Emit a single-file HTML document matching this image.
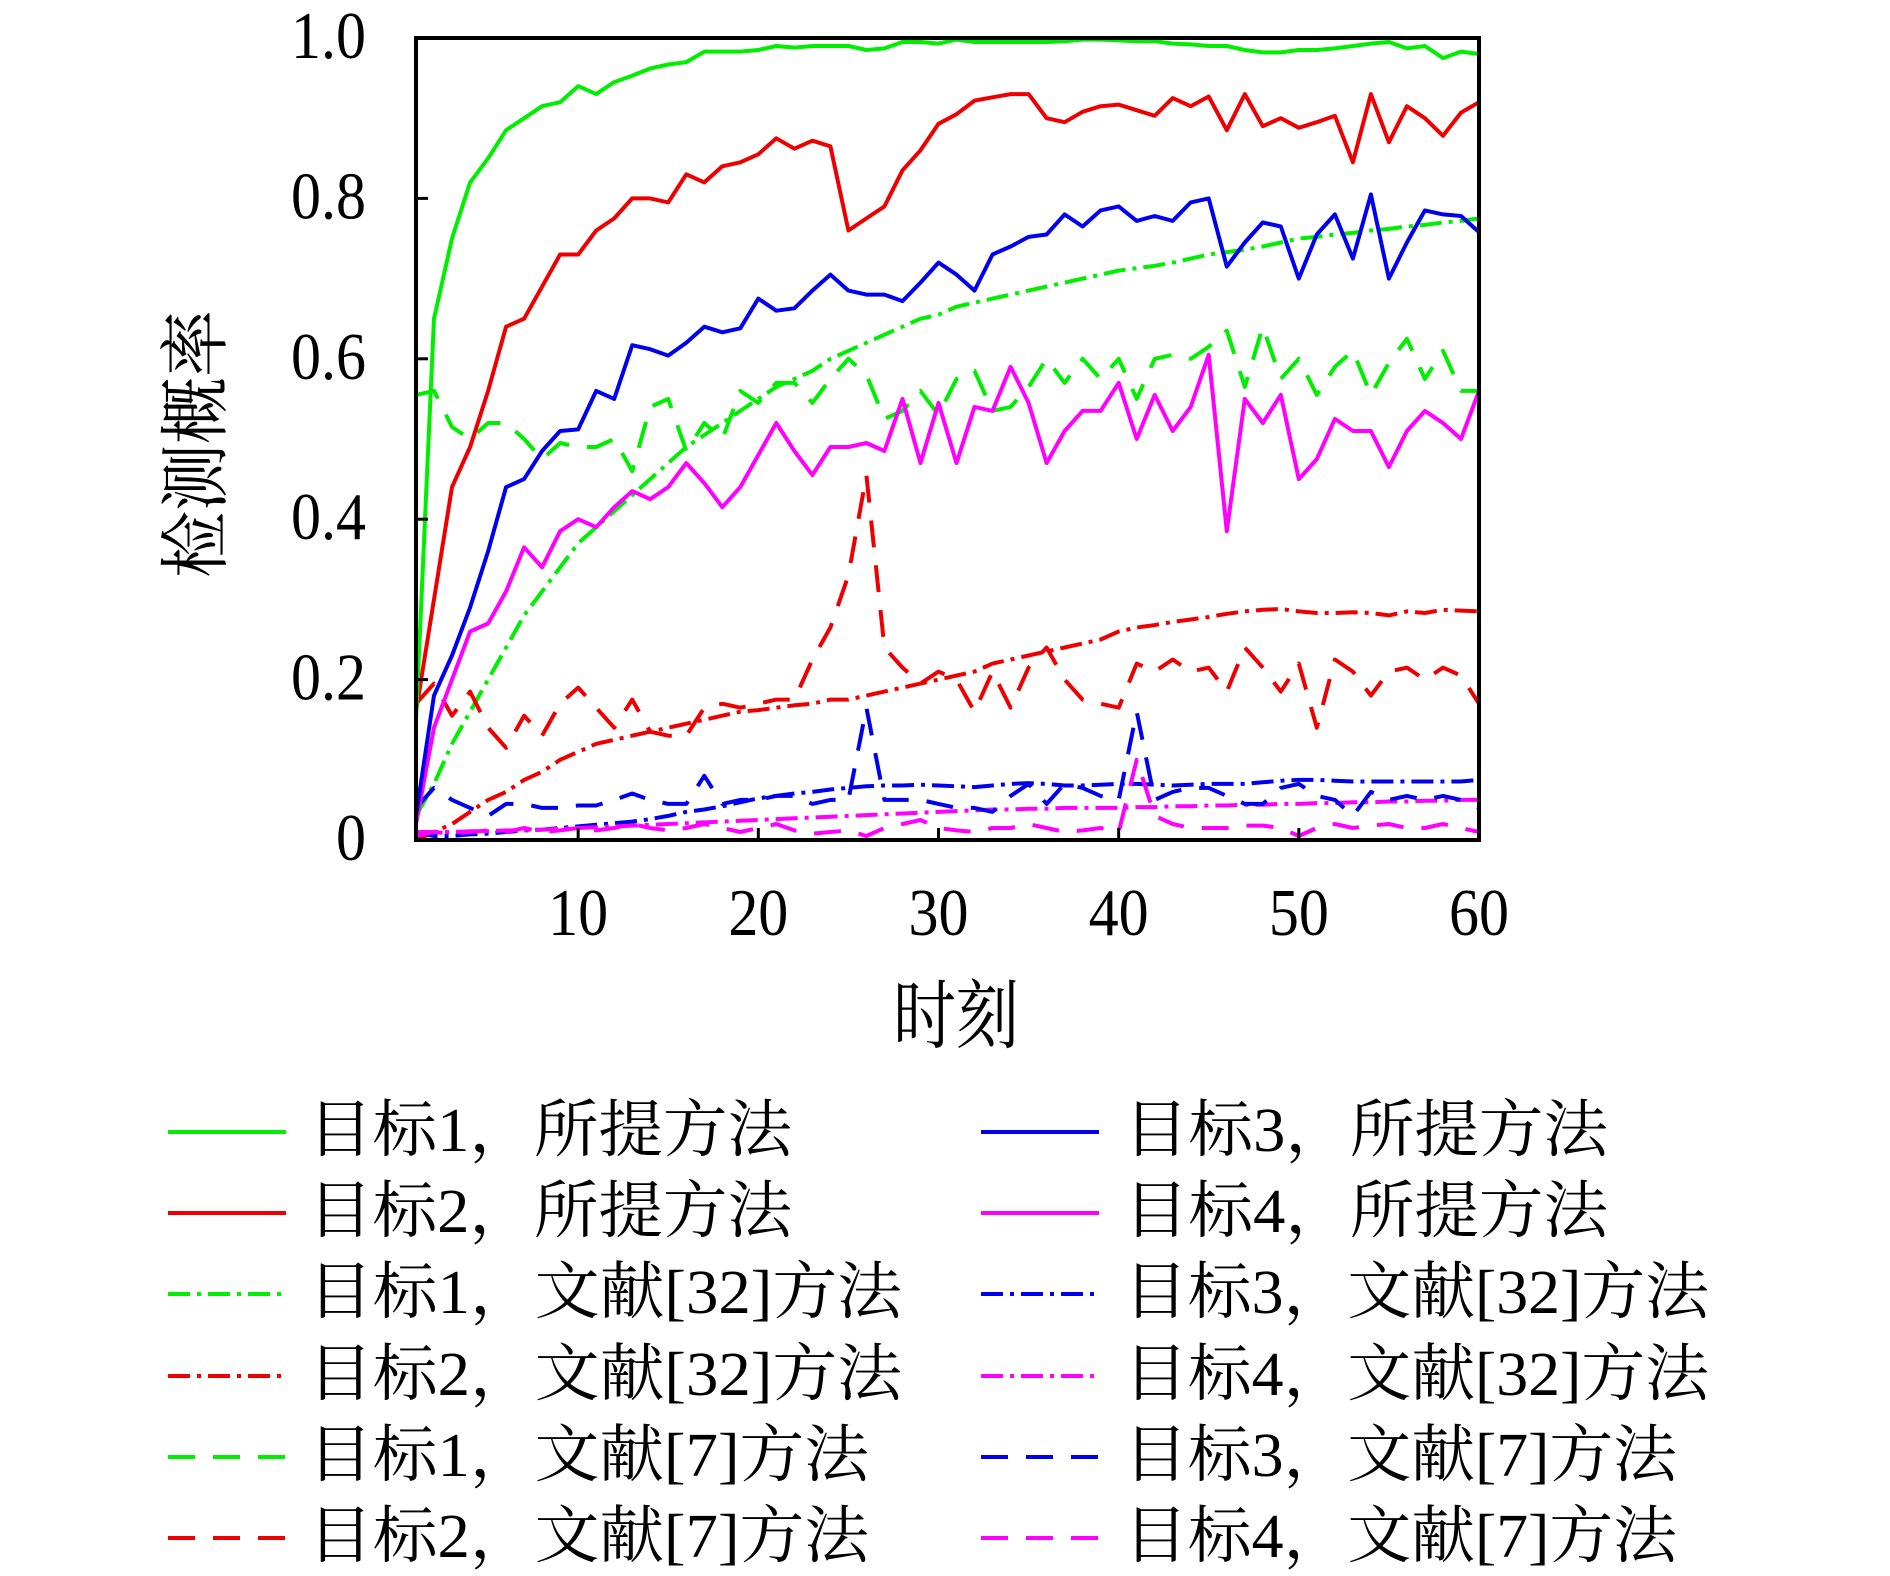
<!DOCTYPE html>
<html><head><meta charset="utf-8"><style>
html,body{margin:0;padding:0;background:#fff;}
svg{display:block;}
text{font-family:"Liberation Serif","Noto Serif CJK SC",serif;fill:#000;}
</style></head><body>
<svg id="chart" width="1890" height="1576" viewBox="0 0 1890 1576" xmlns="http://www.w3.org/2000/svg">
<g id="plot"></g>
<g id="axes"></g>
<g id="legend"></g>
</svg>
<script>
const xTicks = [10,20,30,40,50,60];
const yTicks = [0,0.2,0.4,0.6,0.8,1.0];
const yTickLabels = ["0","0.2","0.4","0.6","0.8","1.0"];
const g1Proposed = [0.15,0.65,0.75,0.82,0.85,0.885,0.9,0.915,0.92,0.94,0.93,0.945,0.953,0.962,0.967,0.97,0.983,0.983,0.983,0.985,0.99,0.988,0.99,0.99,0.99,0.985,0.987,0.995,0.995,0.993,0.998,0.995,0.995,0.995,0.995,0.995,0.996,0.998,0.998,0.997,0.996,0.996,0.993,0.992,0.99,0.99,0.985,0.982,0.982,0.985,0.985,0.987,0.99,0.993,0.995,0.987,0.99,0.975,0.983,0.98];
const g2Proposed = [0.16,0.3,0.44,0.49,0.56,0.64,0.65,0.69,0.73,0.73,0.76,0.775,0.8,0.8,0.795,0.83,0.82,0.84,0.845,0.855,0.875,0.862,0.872,0.865,0.76,0.775,0.79,0.835,0.86,0.893,0.905,0.922,0.926,0.93,0.93,0.9,0.895,0.908,0.915,0.917,0.91,0.903,0.925,0.915,0.927,0.885,0.93,0.89,0.9,0.888,0.895,0.903,0.845,0.93,0.87,0.915,0.9,0.878,0.907,0.92];
const g3Proposed = [0.03,0.18,0.23,0.29,0.36,0.44,0.45,0.485,0.51,0.512,0.56,0.55,0.617,0.612,0.604,0.62,0.64,0.633,0.638,0.675,0.66,0.663,0.685,0.705,0.685,0.68,0.68,0.672,0.695,0.72,0.705,0.685,0.73,0.74,0.752,0.755,0.78,0.765,0.785,0.79,0.772,0.778,0.772,0.795,0.8,0.715,0.745,0.77,0.765,0.7,0.755,0.78,0.725,0.805,0.7,0.745,0.785,0.78,0.778,0.758];
const g4Proposed = [0.02,0.14,0.2,0.26,0.27,0.31,0.365,0.34,0.385,0.4,0.39,0.415,0.435,0.425,0.44,0.47,0.445,0.415,0.44,0.48,0.52,0.485,0.455,0.49,0.49,0.495,0.485,0.55,0.47,0.545,0.47,0.54,0.535,0.59,0.545,0.47,0.51,0.535,0.535,0.57,0.5,0.555,0.51,0.54,0.605,0.385,0.55,0.52,0.555,0.45,0.475,0.525,0.51,0.51,0.465,0.51,0.535,0.52,0.5,0.56];
const g1Ref32 = [0.03,0.07,0.12,0.16,0.2,0.24,0.28,0.31,0.34,0.37,0.39,0.41,0.43,0.45,0.47,0.49,0.505,0.52,0.535,0.55,0.565,0.575,0.585,0.6,0.61,0.62,0.63,0.64,0.65,0.655,0.665,0.67,0.675,0.68,0.685,0.69,0.695,0.7,0.705,0.71,0.713,0.716,0.72,0.725,0.73,0.733,0.736,0.74,0.745,0.75,0.752,0.755,0.757,0.76,0.762,0.765,0.767,0.77,0.772,0.775];
const g2Ref32 = [0.0,0.01,0.02,0.035,0.05,0.06,0.075,0.085,0.1,0.11,0.12,0.125,0.13,0.135,0.14,0.145,0.15,0.155,0.16,0.162,0.165,0.168,0.17,0.175,0.175,0.18,0.185,0.19,0.195,0.2,0.205,0.21,0.22,0.225,0.23,0.235,0.24,0.245,0.25,0.26,0.265,0.268,0.272,0.275,0.278,0.282,0.285,0.287,0.288,0.285,0.283,0.283,0.284,0.283,0.28,0.285,0.283,0.287,0.286,0.285];
const g3Ref32 = [0.01,0.005,0.005,0.007,0.008,0.01,0.012,0.013,0.015,0.017,0.019,0.021,0.023,0.026,0.03,0.035,0.038,0.042,0.047,0.052,0.055,0.058,0.06,0.063,0.065,0.067,0.068,0.068,0.069,0.068,0.067,0.066,0.068,0.07,0.071,0.07,0.068,0.068,0.069,0.07,0.07,0.069,0.068,0.069,0.07,0.07,0.07,0.072,0.074,0.075,0.075,0.074,0.073,0.073,0.073,0.073,0.073,0.073,0.073,0.075];
const g4Ref32 = [0.01,0.01,0.01,0.011,0.011,0.012,0.012,0.013,0.014,0.015,0.016,0.017,0.018,0.019,0.02,0.021,0.022,0.023,0.024,0.025,0.026,0.027,0.028,0.029,0.03,0.031,0.032,0.033,0.034,0.035,0.036,0.037,0.038,0.038,0.039,0.039,0.04,0.04,0.04,0.04,0.041,0.041,0.042,0.042,0.043,0.043,0.044,0.044,0.045,0.045,0.046,0.046,0.047,0.047,0.048,0.048,0.049,0.049,0.05,0.05];
const g1Ref7 = [0.555,0.56,0.515,0.5,0.52,0.52,0.5,0.475,0.495,0.49,0.49,0.5,0.46,0.54,0.55,0.485,0.52,0.5,0.56,0.545,0.57,0.57,0.545,0.575,0.6,0.58,0.525,0.535,0.56,0.53,0.575,0.585,0.535,0.54,0.565,0.6,0.57,0.6,0.575,0.6,0.55,0.6,0.605,0.6,0.615,0.635,0.565,0.64,0.575,0.6,0.555,0.59,0.61,0.555,0.595,0.625,0.575,0.61,0.56,0.56];
const g2Ref7 = [0.17,0.195,0.155,0.185,0.14,0.115,0.155,0.13,0.17,0.19,0.165,0.14,0.175,0.135,0.13,0.13,0.165,0.17,0.165,0.17,0.175,0.175,0.225,0.265,0.33,0.455,0.24,0.215,0.195,0.21,0.2,0.16,0.21,0.165,0.215,0.24,0.2,0.175,0.17,0.165,0.22,0.21,0.225,0.21,0.215,0.185,0.24,0.215,0.185,0.22,0.14,0.225,0.21,0.18,0.21,0.215,0.2,0.215,0.205,0.17];
const g3Ref7 = [0.04,0.065,0.05,0.04,0.03,0.045,0.045,0.04,0.04,0.043,0.043,0.05,0.058,0.05,0.045,0.045,0.08,0.045,0.05,0.05,0.055,0.055,0.045,0.05,0.05,0.165,0.05,0.05,0.05,0.045,0.04,0.04,0.035,0.055,0.07,0.045,0.07,0.065,0.055,0.05,0.16,0.05,0.06,0.065,0.065,0.055,0.045,0.045,0.065,0.07,0.055,0.05,0.03,0.06,0.05,0.055,0.05,0.055,0.05,0.04];
const g4Ref7 = [0.005,0.01,0.008,0.01,0.012,0.01,0.015,0.01,0.012,0.015,0.012,0.015,0.02,0.015,0.012,0.015,0.02,0.015,0.01,0.015,0.02,0.012,0.008,0.01,0.012,0.005,0.015,0.02,0.025,0.015,0.012,0.01,0.015,0.015,0.02,0.015,0.01,0.012,0.015,0.01,0.1,0.03,0.02,0.015,0.015,0.015,0.018,0.018,0.015,0.005,0.015,0.02,0.015,0.018,0.02,0.015,0.015,0.02,0.015,0.01];

const NS = "http://www.w3.org/2000/svg";
const L = 416, R = 1479, T = 38, B = 840;
function xs(t){ return L + (t-1)*(R-L)/59; }
function ys(v){ return B - v*(B-T); }
function mk(tag, attrs, parent){ const e=document.createElementNS(NS,tag); for(const k in attrs) e.setAttribute(k,attrs[k]); parent.appendChild(e); return e; }

const GREEN="#00ee00", RED="#ee0000", BLUE="#0000ee", MAG="#ff00ff";
const SOLID="", DASHDOT="22 7 4 7", DASH="27 18";
const series = [
  {d:g1Ref32,c:GREEN,s:DASHDOT,n:"series-target1-ref32"},
  {d:g2Ref32,c:RED,s:DASHDOT,n:"series-target2-ref32"},
  {d:g3Ref32,c:BLUE,s:DASHDOT,n:"series-target3-ref32"},
  {d:g4Ref32,c:MAG,s:DASHDOT,n:"series-target4-ref32"},
  {d:g1Ref7,c:GREEN,s:DASH,n:"series-target1-ref7"},
  {d:g2Ref7,c:RED,s:DASH,n:"series-target2-ref7"},
  {d:g3Ref7,c:BLUE,s:DASH,n:"series-target3-ref7"},
  {d:g4Ref7,c:MAG,s:DASH,n:"series-target4-ref7"},
  {d:g4Proposed,c:MAG,s:SOLID,n:"series-target4-proposed"},
  {d:g3Proposed,c:BLUE,s:SOLID,n:"series-target3-proposed"},
  {d:g2Proposed,c:RED,s:SOLID,n:"series-target2-proposed"},
  {d:g1Proposed,c:GREEN,s:SOLID,n:"series-target1-proposed"}
];
const plot=document.getElementById('plot');
series.forEach(s=>{
  const pts=s.d.map((v,i)=>xs(i+1).toFixed(1)+","+ys(v).toFixed(1)).join(" ");
  const a={points:pts,fill:"none",stroke:s.c,"stroke-width":4,"stroke-linejoin":"round"};
  if(s.s) a["stroke-dasharray"]=s.s;
  const el=mk('polyline',a,plot);
  
  
});

const axes=document.getElementById('axes');
const fr=mk('rect',{x:L,y:T,width:R-L,height:B-T,fill:"none",stroke:"#000","stroke-width":4},axes);


xTicks.forEach(t=>{
  const tk=mk('line',{x1:xs(t),x2:xs(t),y1:B,y2:B-12,stroke:"#000","stroke-width":3},axes);
  
  
  const tx=mk('text',{x:xs(t),y:0,"text-anchor":"middle","font-size":60,transform:"translate(0,935) scale(1,1.12)"},axes);
  tx.textContent=String(t);
  
  
});
yTicks.forEach((v,i)=>{
  const tk=mk('line',{x1:L,x2:L+12,y1:ys(v),y2:ys(v),stroke:"#000","stroke-width":3},axes);
  
  
  const tx=mk('text',{x:366,y:0,"text-anchor":"end","font-size":60,transform:"translate(0,"+(ys(v)+20)+") scale(1,1.12)"},axes);
  tx.textContent=yTickLabels[i];
  
  
});
const xt=mk('text',{x:0,y:0,"text-anchor":"middle","font-size":54,textLength:126,lengthAdjust:"spacingAndGlyphs",transform:"translate(956,1042) scale(1,1.4)"},axes);
xt.textContent="时刻";


const yt=mk('text',{x:0,y:0,"text-anchor":"middle","font-size":54,textLength:268,lengthAdjust:"spacingAndGlyphs",transform:"translate(220,444) rotate(-90) scale(1,1.3)"},axes);
yt.textContent="检测概率";



const legRows=[1132,1213,1294,1376,1457,1538];
const legend=[
  {c:GREEN,s:SOLID,t:"目标1，所提方法",w:484,col:0,r:0},
  {c:RED,s:SOLID,t:"目标2，所提方法",w:484,col:0,r:1},
  {c:GREEN,s:DASHDOT,t:"目标1，文献[32]方法",w:594,col:0,r:2},
  {c:RED,s:DASHDOT,t:"目标2，文献[32]方法",w:594,col:0,r:3},
  {c:GREEN,s:DASH,t:"目标1，文献[7]方法",w:561,col:0,r:4},
  {c:RED,s:DASH,t:"目标2，文献[7]方法",w:561,col:0,r:5},
  {c:BLUE,s:SOLID,t:"目标3，所提方法",w:484,col:1,r:0},
  {c:MAG,s:SOLID,t:"目标4，所提方法",w:484,col:1,r:1},
  {c:BLUE,s:DASHDOT,t:"目标3，文献[32]方法",w:585,col:1,r:2},
  {c:MAG,s:DASHDOT,t:"目标4，文献[32]方法",w:585,col:1,r:3},
  {c:BLUE,s:DASH,t:"目标3，文献[7]方法",w:553,col:1,r:4},
  {c:MAG,s:DASH,t:"目标4，文献[7]方法",w:553,col:1,r:5}
];
const lg=document.getElementById('legend');
legend.forEach(e=>{
  const x0 = e.col ? 981 : 168, tx0 = e.col ? 1124 : 308;
  const y=legRows[e.r];
  const g=mk('g',{},lg);
  
  
  const a={x1:x0,x2:x0+118,y1:y,y2:y,stroke:e.c,"stroke-width":4};
  if(e.s) a["stroke-dasharray"]=e.s;
  const ln=mk('line',a,g);
  
  
  const t=mk('text',{x:0,y:0,"font-size":48,textLength:e.w,lengthAdjust:"spacingAndGlyphs",transform:"translate("+tx0+","+(y+19)+") scale(1,1.3)"},g);
  t.textContent=e.t;
  
  
});
</script>
</body></html>
